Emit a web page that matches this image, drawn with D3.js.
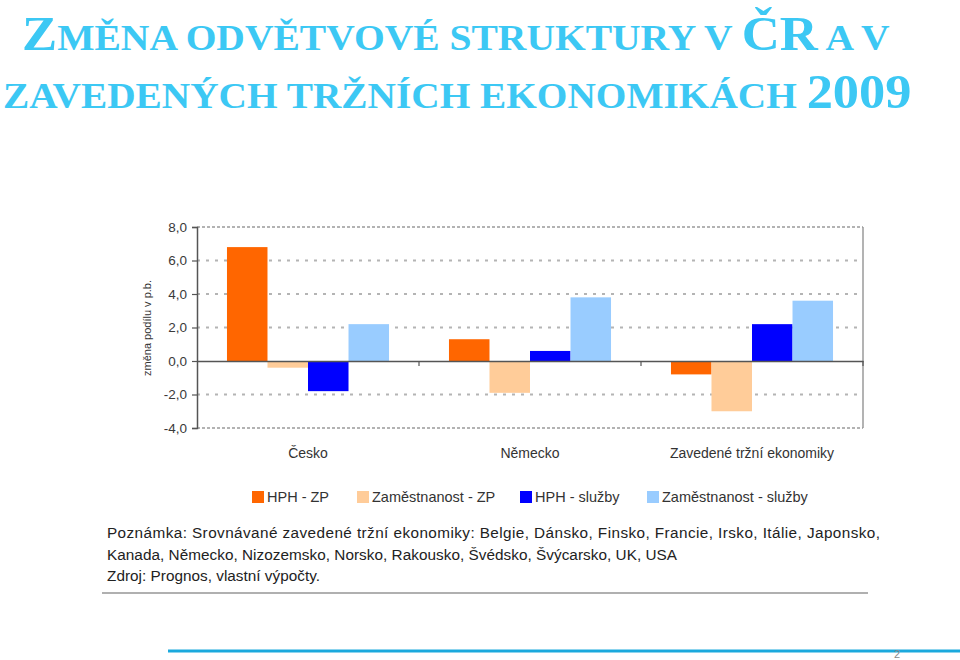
<!DOCTYPE html>
<html>
<head>
<meta charset="utf-8">
<script src="https://cdn.jsdelivr.net/npm/d3@7"></script>
<style>
  html, body { margin: 0; padding: 0; background: #fff; }
  svg { display: block; }
</style>
</head>
<body>
<svg id="chart" width="960" height="660"></svg>
<script>
// ---- data ----
const categories = ["Česko", "Německo", "Zavedené tržní ekonomiky"];
const seriesNames = ["HPH - ZP", "Zaměstnanost - ZP", "HPH - služby", "Zaměstnanost - služby"];
const hphZP = [6.8, 1.3, -0.8];
const zamZP = [-0.4, -1.9, -3.0];
const hphSluzby = [-1.8, 0.6, 2.2];
const zamSluzby = [2.2, 3.8, 3.6];
const yTicks = [-4, -2, 0, 2, 4, 6, 8];
const seriesColors = ["#FF6600", "#FFCC99", "#0000FF", "#99CCFF"];
const yTitle = "změna podílu v p.b.";
const noteLines = [
  "Poznámka: Srovnávané zavedené tržní ekonomiky: Belgie, Dánsko, Finsko, Francie, Irsko, Itálie, Japonsko,",
  "Kanada, Německo, Nizozemsko, Norsko, Rakousko, Švédsko, Švýcarsko, UK, USA",
  "Zdroj: Prognos, vlastní výpočty."
];
const titleLine1 = [["Z", 1], ["MĚNA ODVĚTVOVÉ STRUKTURY V ", 0], ["ČR", 1], [" A V", 0]];
const titleLine2 = [["ZAVEDENÝCH TRŽNÍCH EKONOMIKÁCH ", 0], ["2009", 1]];
const pageNumber = "2";

const seriesValues = [hphZP, zamZP, hphSluzby, zamSluzby];
const table = [];
categories.forEach((c, ci) => seriesNames.forEach((s, si) => table.push({cat: c, ser: s, si, v: seriesValues[si][ci]})));

const svg = d3.select("#chart");

// ---- title ----
const titleColor = "#3CC8F4";
function drawTitle(parts, baseline, x0, x1) {
  const g = svg.append("g");
  const t = g.append("text").attr("x", 0).attr("y", baseline)
    .attr("font-family", "'Liberation Serif', 'Times New Roman', serif")
    .attr("font-weight", "bold").attr("fill", titleColor);
  parts.forEach(([s, big]) => t.append("tspan").attr("font-size", big ? 48 : 36).text(s));
  const bb = t.node().getBBox();
  const k = (x1 - x0) / bb.width;
  g.attr("transform", `translate(${x0 - bb.x * k},0) scale(${k},1)`);
}
drawTitle(titleLine1, 50, 22, 890);
drawTitle(titleLine2, 108, 3, 912);

// ---- chart ----
const plotL = 197, plotR = 863, plotT = 227, plotB = 428;
const x0 = d3.scaleBand().domain(categories).range([plotL, plotR]).paddingInner(0).paddingOuter(0);
const x1 = d3.scaleBand().domain(seriesNames).range([0, x0.bandwidth()]).paddingInner(0).paddingOuter(0.74);
const y = d3.scaleLinear().domain([-4, 8]).range([plotB, plotT]);
const color = d3.scaleOrdinal().domain(seriesNames).range(seriesColors);

// gridlines
const grid = svg.append("g");
yTicks.forEach(t => {
  if (t === 0) return;
  const edge = (t === 8 || t === -4);
  grid.append("line")
    .attr("x1", plotL).attr("x2", plotR).attr("y1", y(t)).attr("y2", y(t))
    .attr("stroke", edge ? "#9a9a9a" : "#b4b4b4")
    .attr("stroke-width", edge ? 1.5 : 2)
    .attr("stroke-dasharray", edge ? "3,2" : "3,6");
});
// right border
svg.append("line").attr("x1", plotR).attr("x2", plotR).attr("y1", plotT).attr("y2", plotB)
  .attr("stroke", "#9a9a9a").attr("stroke-width", 1.5);

// bars
svg.append("g").selectAll("rect").data(table).join("rect")
  .attr("x", d => x0(d.cat) + x1(d.ser))
  .attr("width", x1.bandwidth())
  .attr("y", d => y(Math.max(0, d.v)))
  .attr("height", d => Math.abs(y(d.v) - y(0)))
  .attr("fill", d => color(d.ser));

// y axis
const yAxis = d3.axisLeft(y).tickValues(yTicks).tickSize(5).tickPadding(5)
  .tickFormat(d => d3.format(".1f")(d).replace(".", ",").replace("−", "-"));
const ya = svg.append("g").attr("transform", `translate(${plotL},0)`).call(yAxis);
ya.select(".domain").attr("stroke", "#555").attr("stroke-width", 1.5);
ya.selectAll(".tick line").attr("stroke", "#555").attr("stroke-width", 1.2);
ya.selectAll(".tick text").attr("font-family", "'Liberation Sans', Arial, sans-serif")
  .attr("font-size", 13.5).attr("fill", "#3a3a3a");

// zero axis with category ticks
const xAxis = d3.axisBottom(x0).tickValues([]).tickSizeOuter(0);
const xa = svg.append("g").attr("transform", `translate(0,${y(0)})`).call(xAxis);
xa.select(".domain").attr("stroke", "#555").attr("stroke-width", 1.5);
const bounds = categories.map(c => x0(c) + x0.bandwidth());
svg.append("g").selectAll("line").data(bounds).join("line")
  .attr("x1", d => d).attr("x2", d => d).attr("y1", y(0)).attr("y2", y(0) + 5)
  .attr("stroke", "#555").attr("stroke-width", 1.2);

// category labels
svg.append("g").selectAll("text").data(categories).join("text")
  .attr("x", d => x0(d) + x0.bandwidth() / 2).attr("y", 458)
  .attr("text-anchor", "middle")
  .attr("font-family", "'Liberation Sans', Arial, sans-serif").attr("font-size", 14)
  .attr("fill", "#333").text(d => d);

// y title
svg.append("text").attr("transform", "translate(151,328) rotate(-90)")
  .attr("text-anchor", "middle")
  .attr("font-family", "'Liberation Sans', Arial, sans-serif").attr("font-size", 11)
  .attr("fill", "#333").text(yTitle);

// legend
const legendX = [252, 357, 520, 647];
const lg = svg.append("g").selectAll("g").data(seriesNames).join("g")
  .attr("transform", (d, i) => `translate(${legendX[i]},491)`);
lg.append("rect").attr("width", 12).attr("height", 12).attr("fill", d => color(d));
lg.append("text").attr("x", 15).attr("y", 11)
  .attr("font-family", "'Liberation Sans', Arial, sans-serif").attr("font-size", 14.5)
  .attr("fill", "#333").text(d => d);

// notes
const noteWidths = [773, 570, 213];
svg.append("g").selectAll("text").data(noteLines).join("text")
  .attr("x", 107).attr("y", (d, i) => 538 + i * 21.5)
  .attr("font-family", "'Liberation Sans', Arial, sans-serif").attr("font-size", 15.3)
  .attr("fill", "#222")
  .attr("textLength", (d, i) => noteWidths[i])
  .attr("lengthAdjust", "spacing")
  .text(d => d);

// separator under notes
svg.append("line").attr("x1", 102).attr("x2", 868).attr("y1", 593).attr("y2", 593)
  .attr("stroke", "#b0b0b0").attr("stroke-width", 2);

// slide footer
svg.append("line").attr("x1", 168).attr("x2", 960).attr("y1", 651).attr("y2", 651)
  .attr("stroke", "#1BA9DD").attr("stroke-width", 3);
svg.append("text").attr("x", 897).attr("y", 658).attr("text-anchor", "middle")
  .attr("font-family", "'Liberation Sans', Arial, sans-serif").attr("font-size", 11)
  .attr("fill", "#8a8a8a").text(pageNumber);
</script>
</body>
</html>
